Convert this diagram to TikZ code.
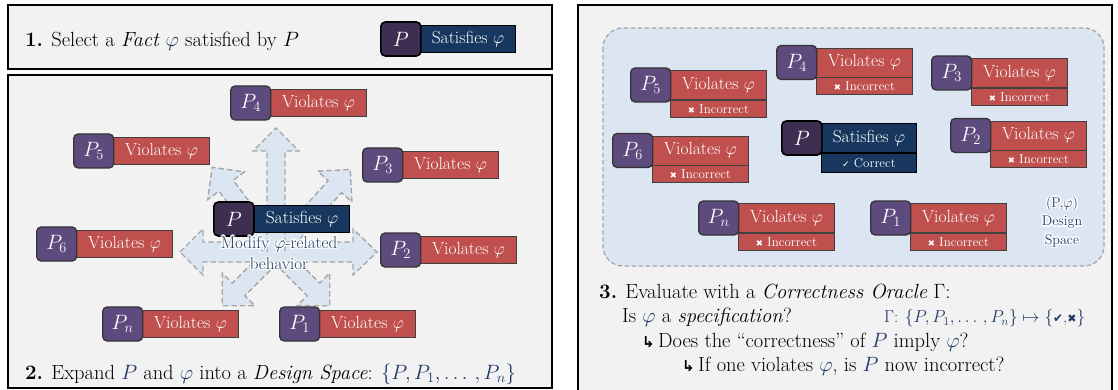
\documentclass[tikz,border=0pt]{standalone}
\usepackage{fontspec}
\usetikzlibrary{calc}
\newfontfamily\symfont{DejaVu Sans}

\definecolor{panelbg}{HTML}{F2F2F2}
\definecolor{progfill}{HTML}{5E4B7D}
\definecolor{progdark}{HTML}{3E2F52}
\definecolor{violred}{HTML}{C0504D}
\definecolor{satblue}{HTML}{17375E}
\definecolor{spacefill}{HTML}{DCE6F2}
\definecolor{dashgray}{HTML}{A6A6A6}
\definecolor{inkblue}{HTML}{1F3864}

\newcommand\blue[1]{{\color{inkblue}#1}}
\newcommand\hook{{\symfont\bfseries\fontsize{15}{15}\selectfont ↳}}

\tikzset{
  panel/.style={draw=black, line width=1.3pt, fill=panelbg},
  prog/.style={draw=black!80, line width=1.3pt, fill=progfill, rounded corners=4.5pt,
    minimum width=40pt, minimum height=34pt, inner sep=0pt, text=white,
    font=\fontsize{21}{21}\selectfont, anchor=west},
  progmain/.style={prog, fill=progdark, draw=black, line width=1.6pt},
  tag/.style={draw=black!75, line width=0.9pt, minimum width=96pt, minimum height=27pt,
    inner sep=0pt, text=white, font=\fontsize{17.5}{17.5}\selectfont, anchor=west},
  viol/.style={tag, fill=violred},
  sat/.style={tag, fill=satblue, draw=black, minimum width=95pt},
  tall/.style={minimum height=29pt},
  verdict/.style={tag, minimum height=17pt, font=\fontsize{13}{13}\selectfont, anchor=north west},
  capline/.style={anchor=base west, inner sep=0pt, font=\fontsize{20.5}{24}\selectfont},
  spread/.style={fill=spacefill, draw=dashgray, line width=1.4pt, dash pattern=on 5.5pt off 3pt},
  glowtxt/.style={inner sep=0pt, align=center, text=inkblue},
}

% program tagged as violating phi
\newcommand\varnode[4]{%
  \node[viol] (#1t) at (#2+40,#3) {Violates $\varphi$};
  \node[prog] (#1) at (#2,#3) {$P_{#4}$};}
% program tagged as violating phi, with the oracle's verdict
\newcommand\judged[4]{%
  \node[viol, tall] (#1t) at (#2+40,#3) {Violates $\varphi$};
  \node[verdict, fill=violred] (#1v) at (#1t.south west) {{\symfont\fontsize{8.5}{8.5}\selectfont ✖} Incorrect};
  \node[prog] (#1) at (#2,#3) {$P_{#4}$};}
% one dashed block arrow of the modification star
\newcommand\spoke[2]{%
  \begin{scope}[shift={(276,252)}, rotate=#1]
    \draw[spread] (0,-9) -- (#2-23,-9) -- (#2-23,-23) -- (#2,0) -- (#2-23,23) -- (#2-23,9) -- (0,9);
  \end{scope}}
% text with a white halo
\newcommand\glow[4][]{%
  \foreach \ang in {0,30,...,330}
    \node[glowtxt, #1, text=white] at ($(#3)+(\ang:1.4pt)$) {#4};
  \node[glowtxt, #1] (#2) at (#3) {#4};}

\begin{document}
\begin{tikzpicture}[x=1pt, y=-1pt]
\useasboundingbox (0,0) rectangle (1118,390);

% ---------- panel 1 ----------
\draw[panel] (8,5) rectangle (552,69);
\node[capline] (cap1) at (25,46.5) {\textbf{1.} Select a \textit{Fact} \blue{$\varphi$} satisfied by $P$};
\node[sat] (a0t) at (420,39) {Satisfies $\varphi$};
\node[progmain] (a0) at (380,39) {$P$};

% ---------- panel 2 ----------
\draw[panel] (8,75) rectangle (552,388);
\spoke{225}{76}
\spoke{-45}{76}
\spoke{127}{106}
\spoke{48}{111}
\draw[spread] (180,252) -- (203,229) -- (203,242) -- (353,242) -- (353,229) -- (377,252)
  -- (353,275) -- (353,262) -- (203,262) -- (203,275) -- cycle;
\spoke{90}{124}

\varnode{b4}{230}{103}{4}
\varnode{b5}{73}{151}{5}
\varnode{b3}{362}{165}{3}
\varnode{b6}{36}{244}{6}
\varnode{b2}{380}{250}{2}
\varnode{bn}{102}{324}{n}
\varnode{b1}{279}{324}{1}
\node[sat] (b0t) at (254,219) {Satisfies $\varphi$};
\node[progmain] (b0) at (213,219) {$P$};
\coordinate (modc) at (279,253);
\glow[font=\fontsize{17}{21}\selectfont]{modify}{modc}{Modify $\varphi$-related\\behavior}

\node[capline] (cap2) at (25,379) {\textbf{2.} Expand \blue{$P$} and \blue{$\varphi$} into a \textit{Design Space}: \blue{$\{P, P_1, \ldots\,, P_n\}$}};

% ---------- panel 3 ----------
\draw[panel] (578,5) rectangle (1112,392);
\draw[spread, line width=1.3pt, dash pattern=on 4.5pt off 2.5pt, rounded corners=20pt] (603,28) rectangle (1104,266);

\judged{c5}{630}{85}{5}
\judged{c4}{776}{62.5}{4}
\judged{c3}{931}{73}{3}
\judged{c2}{950}{135.5}{2}
\judged{c6}{612}{150.5}{6}
\judged{cn}{698}{218}{n}
\judged{c1}{870}{218}{1}
\node[sat, tall] (c0t) at (821,138) {Satisfies $\varphi$};
\node[verdict, fill=satblue, draw=black, minimum width=95pt, minimum height=19pt] (c0v) at (c0t.south west) {{\symfont\fontsize{9}{9}\selectfont ✓} Correct};
\node[progmain] (c0) at (781,138) {$P$};

\coordinate (dsc) at (1062,222);
\glow[font=\fontsize{14}{18.5}\selectfont]{dslabel}{dsc}{(P,$\varphi$)\\Design\\Space}

\node[capline] (cap3) at (599,298.5) {\textbf{3.} Evaluate with a \textit{Correctness Oracle} $\Gamma$:};
\node[capline] (q1) at (622,322.5) {Is \blue{$\varphi$} a \textit{specification}?};
\node[capline, font=\fontsize{16.5}{16.5}\selectfont, text=inkblue] (gam) at (884,322.5)
  {$\Gamma$: $\{P, P_1, \ldots\,, P_n\}\mapsto\{${\symfont\fontsize{12}{12}\selectfont ✔},{\symfont\fontsize{11}{11}\selectfont ✖}$\}$};
\node[capline] (q2) at (642,347) {\hook\,Does the ``correctness'' of \blue{$P$} imply \blue{$\varphi$}?};
\node[capline] (q3) at (682,371) {\hook\,If one violates \blue{$\varphi$}, is \blue{$P$} now incorrect?};
\end{tikzpicture}
\end{document}
